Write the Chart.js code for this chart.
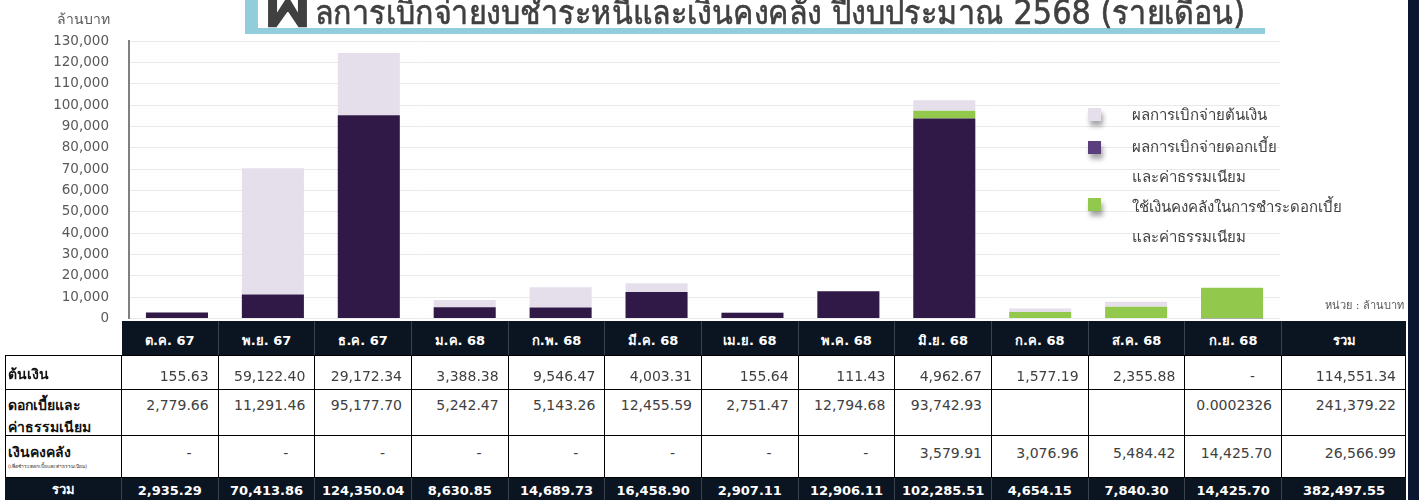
<!DOCTYPE html>
<html><head><meta charset="utf-8">
<script src="https://cdn.jsdelivr.net/npm/chart.js@4.4.1/dist/chart.umd.min.js"></script>
<style>
html,body{margin:0;padding:0;background:#fff;}
#wrap{position:relative;width:1419px;height:500px;overflow:hidden;background:#fff;font-family:Tahoma,"DejaVu Sans","Noto Sans",sans-serif;}
#c{position:absolute;left:0;top:0;}
.abs{position:absolute;}
.leg-sq{position:absolute;width:13px;height:13px;box-shadow:2px 5px 5px rgba(0,0,0,0.35);}
.leg-tx{position:absolute;font-size:15px;color:#404040;white-space:nowrap;line-height:18px;}
.cell{position:absolute;box-sizing:border-box;white-space:nowrap;overflow:hidden;}
</style></head>
<body>
<div id="wrap">
  <canvas id="c" width="1419" height="360"></canvas>
  <div class="abs" style="left:245px;top:0;width:13px;height:34px;background:#92cddc;border-bottom-left-radius:4px;"></div>
  <div class="abs" style="left:245px;top:28px;width:1020px;height:6px;background:#92cddc;"></div>
  <div class="abs" id="titleBig" style="left:264px;top:-43px;font-size:82px;font-weight:bold;color:#404040;line-height:80px;">ผ</div>
  <div class="abs" id="title" style="left:315px;top:-9px;font-size:33px;color:#404040;line-height:44px;white-space:nowrap;transform-origin:0 0;-webkit-text-stroke:0.6px #404040;">ลการเบิกจ่ายงบชำระหนี้และเงินคงคลัง ปีงบประมาณ 2568 (รายเดือน)</div>
  <div class="abs" style="left:57px;top:10px;font-size:14px;color:#595959;line-height:18px;">ล้านบาท</div>
  <div class="abs" style="left:1250px;width:154px;text-align:right;top:299px;font-size:11px;color:#595959;line-height:14px;white-space:nowrap;">หน่วย : ล้านบาท</div>
  <div id="legend"></div>
  <div id="table"></div>
  <div class="abs" style="left:1408px;top:0;width:11px;height:500px;background:#0b1731;"></div>
</div>
<script>
// ---- data ----
const categories = ['ต.ค. 67','พ.ย. 67','ธ.ค. 67','ม.ค. 68','ก.พ. 68','มี.ค. 68','เม.ย. 68','พ.ค. 68','มิ.ย. 68','ก.ค. 68','ส.ค. 68','ก.ย. 68'];
const principal = [155.63, 59122.40, 29172.34, 3388.38, 9546.47, 4003.31, 155.64, 111.43, 4962.67, 1577.19, 2355.88, 0];
const interest  = [2779.66, 11291.46, 95177.70, 5242.47, 5143.26, 12455.59, 2751.47, 12794.68, 93742.93, null, null, 0.0002326];
const treasury  = [0, 0, 0, 0, 0, 0, 0, 0, 3579.91, 3076.96, 5484.42, 14425.70];
const monthTotals = [2935.29, 70413.86, 124350.04, 8630.85, 14689.73, 16458.90, 2907.11, 12906.11, 102285.51, 4654.15, 7840.30, 14425.70];
const rowTotals = [114551.34, 241379.22, 26566.99];
const grandTotal = 382497.55;
const yMin = 0, yMax = 130000, yStep = 10000;
const seriesNames = ['ผลการเบิกจ่ายต้นเงิน', 'ผลการเบิกจ่ายดอกเบี้ยและค่าธรรมเนียม', 'ใช้เงินคงคลังในการชำระดอกเบี้ยและค่าธรรมเนียม'];
const totalLabel = 'รวม';

// ---- title fit ----
const titleEl = document.getElementById('title');
const tw = titleEl.getBoundingClientRect().width;
titleEl.style.transform = 'scaleX(' + (930 / tw) + ')';

// ---- chart ----
const COL_DARK = '#301947', COL_LIGHT = '#e4dfeb', COL_GREEN = '#92c84b';
new Chart(document.getElementById('c').getContext('2d'), {
  type: 'bar',
  data: {
    labels: categories,
    datasets: [
      {label: seriesNames[1], data: interest, backgroundColor: COL_DARK},
      {label: seriesNames[2], data: treasury, backgroundColor: COL_GREEN},
      {label: seriesNames[0], data: principal, backgroundColor: COL_LIGHT}
    ]
  },
  options: {
    responsive: false, animation: false, devicePixelRatio: 1,
    layout: {padding: {left: 0, right: 139, top: 41, bottom: 41.5}},
    plugins: {legend: {display: false}, tooltip: {enabled: false}},
    datasets: {bar: {categoryPercentage: 1, barPercentage: 0.647, borderWidth: 0}},
    scales: {
      x: {stacked: true, display: false},
      y: {
        stacked: true, min: yMin, max: yMax,
        ticks: {stepSize: yStep, padding: 20, color: '#595959', font: {family: 'DejaVu Sans', size: 13.5},
                callback: v => v.toLocaleString('en-US')},
        grid: {color: '#e9e9e9', lineWidth: 1, drawTicks: false},
        border: {display: true, color: '#808080', width: 2},
        afterFit: s => { s.width = 129; }
      }
    }
  }
});

// ---- legend ----
const lg = document.getElementById('legend');
const legendItems = [
  {color: COL_LIGHT, sq: 108, lines: [seriesNames[0]], ty: 106},
  {color: '#5b3f7d', sq: 141, lines: ['ผลการเบิกจ่ายดอกเบี้ย', 'และค่าธรรมเนียม'], ty: 138},
  {color: COL_GREEN, sq: 198, lines: ['ใช้เงินคงคลังในการชำระดอกเบี้ย', 'และค่าธรรมเนียม'], ty: 198}
];
legendItems.forEach(it => {
  const s = document.createElement('div'); s.className = 'leg-sq';
  s.style.left = '1088px'; s.style.top = it.sq + 'px'; s.style.background = it.color; lg.appendChild(s);
  it.lines.forEach((t, i) => {
    const d = document.createElement('div'); d.className = 'leg-tx';
    d.style.left = '1132px'; d.style.top = (it.ty + i * 30) + 'px'; d.textContent = t; lg.appendChild(d);
  });
});

// ---- table ----
const tb = document.getElementById('table');
const edges = [5, 122];
for (let i = 1; i <= 12; i++) edges.push(122 + i * 96.67);
edges.push(1406);
const rows = [
  {top: 321, h: 34}, {top: 355, h: 35}, {top: 390, h: 46}, {top: 436, h: 42}, {top: 478, h: 26}
];
function fmt(v) {
  if (v === null) return '';
  if (v === 0) return '-';
  if (v < 0.01) return String(v);
  return v.toLocaleString('en-US', {minimumFractionDigits: 2, maximumFractionDigits: 2});
}
function cell(x0, x1, r, opts) {
  const d = document.createElement('div'); d.className = 'cell';
  d.style.left = x0 + 'px'; d.style.width = (x1 - x0) + 'px';
  d.style.top = r.top + 'px'; d.style.height = r.h + 'px';
  Object.assign(d.style, opts.style || {});
  if (opts.html !== undefined) d.innerHTML = opts.html; else d.textContent = opts.text || '';
  tb.appendChild(d); return d;
}
const DARK = '#0b1522';
// header
for (let c = 0; c < 13; c++) {
  const txt = c < 12 ? categories[c] : totalLabel;
  cell(edges[c + 1], edges[c + 2], rows[0], {text: txt, style: {background: DARK, color: '#fff', fontWeight: 'bold', fontSize: '13px', textAlign: 'center', lineHeight: '39px', borderRight: c < 12 ? '1px solid #3a414b' : 'none'}});
}
// body rows
const bodyData = [principal, interest, treasury];
const labelsHtml = [
  '<div style="padding:9px 0 0 2px;font-weight:bold;font-size:14px;color:#111;line-height:18px;">ต้นเงิน</div>',
  '<div style="padding:4px 0 0 2px;font-weight:bold;font-size:14px;color:#111;line-height:22px;">ดอกเบี้ยและ<br>ค่าธรรมเนียม</div>',
  '<div style="padding:7px 0 0 2px;font-weight:bold;font-size:14px;color:#111;line-height:18px;">เงินคงคลัง</div><div style="padding:1px 0 0 2px;font-size:5px;color:#333;line-height:8px;">(เพื่อชำระดอกเบี้ยและค่าธรรมเนียม)</div>'
];
const valPad = [11, 6, 8];
for (let r = 0; r < 3; r++) {
  const R = rows[r + 1];
  const base = {boxSizing: 'border-box', borderRight: '1px solid #000', borderBottom: '1px solid #000'};
  cell(edges[0], edges[1], R, {html: labelsHtml[r], style: Object.assign({borderLeft: '1px solid #000', borderTop: r === 0 ? '1px solid #000' : 'none'}, base)});
  for (let c = 0; c < 13; c++) {
    const v = c < 12 ? bodyData[r][c] : rowTotals[r];
    const t = fmt(v);
    const dash = t === '-';
    cell(edges[c + 1], edges[c + 2], R, {text: t, style: Object.assign({textAlign: 'right', paddingRight: dash ? '26px' : '9px', paddingTop: valPad[r] + 'px', fontFamily: 'DejaVu Sans', fontSize: '14px', color: '#404040', lineHeight: '18px', borderTop: r === 0 ? '1px solid #000' : 'none'}, base)});
  }
}
// total row
const TR = rows[4];
cell(edges[0], edges[1], TR, {text: totalLabel, style: {background: DARK, color: '#fff', fontWeight: 'bold', fontSize: '13px', textAlign: 'center', lineHeight: '24px', borderRight: '1px solid #3a414b'}});
for (let c = 0; c < 13; c++) {
  const v = c < 12 ? monthTotals[c] : grandTotal;
  cell(edges[c + 1], edges[c + 2], TR, {text: fmt(v), style: {background: DARK, color: '#fff', fontWeight: 'bold', fontFamily: 'DejaVu Sans', fontSize: '13px', textAlign: 'center', lineHeight: '25px', borderRight: c < 12 ? '1px solid #3a414b' : 'none'}});
}
</script>
</body></html>
